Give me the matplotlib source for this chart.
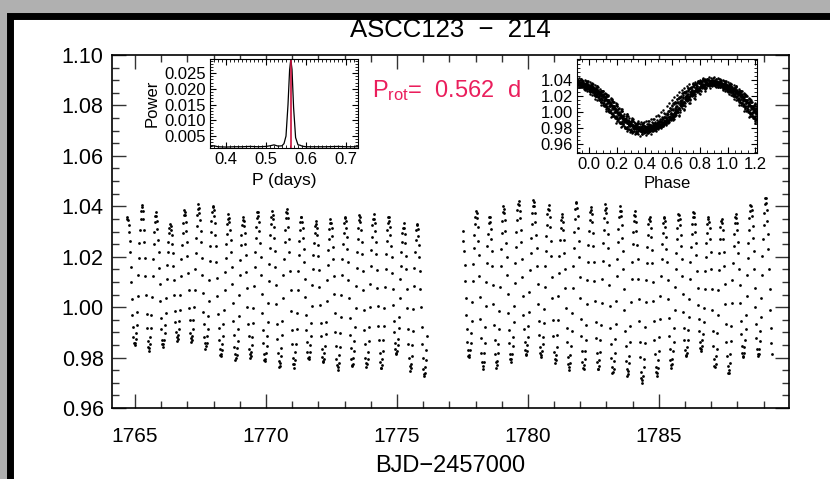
import numpy as np
import matplotlib.pyplot as plt
from matplotlib.patches import Rectangle
from matplotlib.ticker import MultipleLocator, FixedLocator, FormatStrFormatter

plt.rcParams['mathtext.fontset'] = 'custom'
plt.rcParams['mathtext.rm'] = 'Liberation Sans'
plt.rcParams['mathtext.it'] = 'Liberation Sans'

NARROW = ['Liberation Sans Narrow', 'DejaVu Sans Condensed', 'Liberation Sans', 'DejaVu Sans']
SANS = ['Liberation Sans', 'DejaVu Sans']

# rotation period quoted on the chart and light-curve coverage
p_rot = 0.562
cadence = 0.02083
seg_start = [1764.69, 1777.52]
seg_end = [1776.15, 1789.31]

# times of light maxima, with their cycle numbers
peak_times = [1765.258, 1765.792, 1766.337, 1766.882, 1767.417, 1767.971, 1768.566,
              1773.567, 1774.102, 1774.677, 1775.251, 1775.756,
              1778.024, 1778.529, 1779.064, 1779.639, 1780.213, 1780.788, 1781.293, 1781.838,
              1786.315, 1786.889, 1787.384, 1787.929, 1788.503, 1789.068]
peak_cycle = [0, 1, 2, 3, 4, 5, 6,
              15, 16, 17, 18, 19,
              23, 24, 25, 26, 27, 28, 29, 30,
              38, 39, 40, 41, 42, 43]
peak_phase = 0.88

# one rotation cycle
tmpl_phase = [0.00, 0.08, 0.15, 0.22, 0.30, 0.37, 0.44, 0.52, 0.59, 0.66, 0.74, 0.81, 0.88, 0.95, 1.00]
tmpl_flux = [1.032, 1.022, 1.009, 0.995, 0.984, 0.980, 0.982, 0.988, 0.998, 1.014, 1.027, 1.035, 1.039, 1.036, 1.032]

# upper and lower envelope of the light curve along the time axis
env_time = [1764.703, 1765.258, 1765.792, 1766.337, 1766.882, 1767.417, 1767.971, 1768.566,
            1769.160, 1769.754, 1770.348, 1770.943, 1771.537, 1772.131, 1772.725, 1773.221,
            1773.815, 1774.409, 1774.905, 1775.400, 1775.994,
            1777.579, 1778.074, 1778.569, 1779.064, 1779.659, 1780.253, 1780.748, 1781.342,
            1781.838, 1782.432, 1783.026, 1783.620, 1784.215, 1784.809, 1785.403, 1785.997,
            1786.542, 1787.087, 1787.681, 1788.226, 1788.771, 1789.266]
env_top = [1.036, 1.041, 1.038, 1.033, 1.039, 1.041, 1.041, 1.037,
           1.036, 1.039, 1.038, 1.040, 1.035, 1.034, 1.036, 1.037,
           1.037, 1.037, 1.036, 1.032, 1.035,
           1.036, 1.039, 1.0365, 1.0405, 1.0425, 1.043, 1.041, 1.037,
           1.0425, 1.040, 1.041, 1.040, 1.038, 1.036, 1.037, 1.038,
           1.0385, 1.035, 1.0365, 1.0385, 1.0438, 1.0445]
env_bot = [0.986, 0.983, 0.982, 0.986, 0.987, 0.985, 0.982, 0.978,
           0.980, 0.979, 0.976, 0.975, 0.979, 0.978, 0.975, 0.976,
           0.976, 0.975, 0.982, 0.975, 0.972,
           0.982, 0.975, 0.976, 0.976, 0.980, 0.981, 0.979, 0.976,
           0.974, 0.976, 0.973, 0.974, 0.969, 0.972, 0.975, 0.980,
           0.983, 0.976, 0.973, 0.980, 0.980, 0.978]

# periodogram (left inset)
pg_period = [0.36, 0.37, 0.38, 0.40, 0.42, 0.44, 0.46, 0.48, 0.50, 0.51, 0.52, 0.53, 0.54,
             0.545, 0.55, 0.555, 0.559, 0.562, 0.565, 0.569, 0.574, 0.58, 0.585, 0.59,
             0.60, 0.62, 0.65, 0.68, 0.70, 0.73]
pg_power = [0.0016, 0.0019, 0.0016, 0.0015, 0.0016, 0.0016, 0.0017, 0.0016, 0.0017, 0.0019,
            0.0022, 0.0018, 0.0019, 0.0026, 0.0050, 0.0150, 0.0260, 0.0294, 0.0262, 0.0140,
            0.0045, 0.0022, 0.0021, 0.0018, 0.0016, 0.0016, 0.0016, 0.0017, 0.0016, 0.0016]

phase_ticks = [0.0, 0.2, 0.4, 0.6, 0.8, 1.0, 1.2]
phase_flux_ticks = [0.96, 0.98, 1.00, 1.02, 1.04]

# ---- build the light curve from the values above
t = np.concatenate([np.arange(a, b, cadence) for a, b in zip(seg_start, seg_end)])
per_fit, t_ref = np.polyfit(peak_cycle, peak_times, 1)
lin_cyc = (t - t_ref) / per_fit
dev = np.array(peak_cycle) - (np.array(peak_times) - t_ref) / per_fit
cyc = lin_cyc + np.interp(t, peak_times, dev)
phase = (cyc + peak_phase) % 1.0
shape = np.interp(phase, tmpl_phase, tmpl_flux)
shape = (shape - min(tmpl_flux)) / (max(tmpl_flux) - min(tmpl_flux))
top = np.interp(t, env_time, env_top)
bot = np.interp(t, env_time, env_bot)
flux = bot + (top - bot) * shape
fold = (lin_cyc + peak_phase) % 1.0

W, H = 830, 479
fig = plt.figure(figsize=(W / 100, H / 100), dpi=100, facecolor='#b0b0b0')
fig.patches.append(Rectangle((10 / W, -0.1), 1.2, 1.1 - 16 / H, transform=fig.transFigure,
                             facecolor='white', edgecolor='black', lw=5, zorder=-10))

def fbox(x0, y0, x1, y1):
    return [x0 / W, 1 - y1 / H, (x1 - x0) / W, (y1 - y0) / H]

# main light curve
ax = fig.add_axes(fbox(112, 55, 789, 408))
ax.patch.set_alpha(0)
ax.plot(t, flux, 'o', color='black', ms=2.0, mec='none')
ax.set_xlim(1764.12, 1789.97)
ax.set_ylim(0.96, 1.10)
ax.xaxis.set_major_locator(MultipleLocator(5))
ax.xaxis.set_minor_locator(MultipleLocator(1))
ax.yaxis.set_major_locator(MultipleLocator(0.02))
ax.yaxis.set_minor_locator(MultipleLocator(0.005))
ax.yaxis.set_major_formatter(FormatStrFormatter('%.2f'))
ax.tick_params(which='both', direction='in', top=True, right=True, width=1, color='#333333')
ax.tick_params(which='major', length=10)
ax.tick_params(which='minor', length=5)
ax.tick_params(axis='y', pad=6, labelsize=15.5)
ax.tick_params(axis='x', pad=14, labelsize=15)
for lab in ax.get_xticklabels():
    lab.set_family(NARROW)
for lab in ax.get_yticklabels():
    lab.set_family(SANS)
for sp in ax.spines.values():
    sp.set_linewidth(1.2)

fig.text(450 / W, 1 - 30 / H, 'ASCC123  \u2212  214', ha='center', va='center', fontsize=18.5,
         family=NARROW)
fig.text(450 / W, 1 - 466 / H, 'BJD\u22122457000', ha='center', va='center', fontsize=17,
         family=NARROW)
fig.text(372 / W, 1 - 91 / H, r'P$_{\mathrm{rot}}$=  0.562  d', ha='left', va='center', fontsize=17,
         color='#ea1e5c', family=SANS)

# periodogram inset
ax1 = fig.add_axes(fbox(210, 59, 358, 148))
ax1.plot(pg_period, pg_power, color='black', lw=0.9)
ax1.axvline(p_rot, color='#c8103c', lw=1.2)
ax1.set_xlim(0.36, 0.73)
ax1.set_ylim(0.0012, 0.0295)
ax1.xaxis.set_major_locator(MultipleLocator(0.1))
ax1.xaxis.set_minor_locator(MultipleLocator(0.01))
ax1.yaxis.set_major_locator(MultipleLocator(0.005))
ax1.yaxis.set_minor_locator(MultipleLocator(0.001))
ax1.xaxis.set_major_formatter(FormatStrFormatter('%.1f'))
ax1.yaxis.set_major_formatter(FormatStrFormatter('%.3f'))
ax1.set_ylabel('Power', fontsize=12, labelpad=3)
ax1.set_xlabel('P (days)', fontsize=12.5, labelpad=4)

# phase-folded inset
keep_hi = fold + 1 < 1.22
keep_lo = fold - 1 > -0.1
ph_all = np.concatenate([fold, fold[keep_hi] + 1, fold[keep_lo] - 1])
fl_all = np.concatenate([flux, flux[keep_hi], flux[keep_lo]])
ax2 = fig.add_axes(fbox(577, 59, 757, 153))
ax2.plot(ph_all, fl_all, 'o', color='black', ms=1.8, mec='none')
ax2.set_xlim(-0.088, 1.212)
ax2.set_ylim(0.9485, 1.066)
ax2.xaxis.set_major_locator(FixedLocator(phase_ticks))
ax2.xaxis.set_minor_locator(MultipleLocator(0.05))
ax2.yaxis.set_major_locator(FixedLocator(phase_flux_ticks))
ax2.yaxis.set_minor_locator(MultipleLocator(0.005))
ax2.xaxis.set_major_formatter(FormatStrFormatter('%.1f'))
ax2.yaxis.set_major_formatter(FormatStrFormatter('%.2f'))
ax2.set_xlabel('Phase', fontsize=12, labelpad=3)

for a in (ax1, ax2):
    a.tick_params(which='both', direction='in', top=True, right=True, labelsize=12, pad=3)
    a.tick_params(which='major', length=4)
    a.tick_params(which='minor', length=2)
    for lab in a.get_xticklabels() + a.get_yticklabels():
        lab.set_family(SANS)
    a.xaxis.label.set_family(SANS)
    a.yaxis.label.set_family(SANS)

fig.savefig('out.png', dpi=100, facecolor=fig.get_facecolor())
